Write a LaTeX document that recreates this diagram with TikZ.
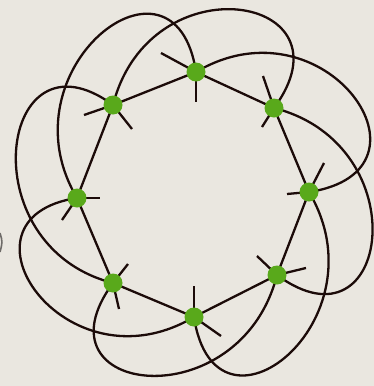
\documentclass[tikz,border=0pt]{standalone}
\usepackage{xcolor}
\usepackage{tikz}

\begin{document}
\begin{tikzpicture}[x=1pt, y=-1pt,
  filo/.style={draw=lineDark, line width=2.3pt},
  punto/.style={circle, fill=dotGreen, inner sep=0pt, minimum size=19pt}]

% Colori
\definecolor{bgBeige}{HTML}{EAE7E0}
\definecolor{lineDark}{HTML}{1C0B09}
\definecolor{dotGreen}{HTML}{59A91B}
\definecolor{lineGray}{HTML}{6E6B68}

% Sfondo
\useasboundingbox (0,0) rectangle (374,386);
\fill[bgBeige] (0,0) rectangle (374,386);

% Vertici dell'ottagono
\coordinate (A) at (196,72);
\coordinate (B) at (274,108);
\coordinate (C) at (309,192);
\coordinate (D) at (277,275);
\coordinate (E) at (194,317);
\coordinate (F) at (113,283);
\coordinate (G) at (77,198);
\coordinate (H) at (113,105);

% Estremi liberi dei tratti corti
\coordinate (a1) at (161,53);  \coordinate (a2) at (196,102);
\coordinate (b1) at (263,76);  \coordinate (b2) at (262,127);
\coordinate (c1) at (324,163); \coordinate (c2) at (287,194);
\coordinate (d1) at (257,256); \coordinate (d2) at (306,268);
\coordinate (e1) at (194,286); \coordinate (e2) at (221,336);
\coordinate (f1) at (128,264); \coordinate (f2) at (119,309);
\coordinate (g1) at (100,198); \coordinate (g2) at (62,220);
\coordinate (h1) at (84,115);  \coordinate (h2) at (132,129);

% Lati
\draw[filo] (A) -- (B) -- (C) -- (D) -- (E) -- (F) -- (G) -- (H) -- cycle;

% Anse esterne (ogni vertice col secondo successivo)
\draw[filo] (A) .. controls +(129,-76.5) and +(138.6,-21) .. (C);
\draw[filo] (B) .. controls +(145.3,37.1) and +(112.9,83.2) .. (D);
\draw[filo] (C) .. controls +(76.5,129) and +(21,138.6) .. (E);
\draw[filo] (D) .. controls +(-37.1,145.3) and +(-83.2,112.9) .. (F);
\draw[filo] (E) .. controls +(-129,76.5) and +(-132,20) .. (G);
\draw[filo] (F) .. controls +(-145.3,-37.1) and +(-112.9,-83.2) .. (H);
\draw[filo] (G) .. controls +(-76.5,-129) and +(-21,-138.6) .. (A);
\draw[filo] (H) .. controls +(37.1,-145.3) and +(83.2,-112.9) .. (B);

% Tratti corti
\draw[filo] (A) -- (a1);  \draw[filo] (A) -- (a2);
\draw[filo] (B) -- (b1);  \draw[filo] (B) -- (b2);
\draw[filo] (C) -- (c1);  \draw[filo] (C) -- (c2);
\draw[filo] (D) -- (d1);  \draw[filo] (D) -- (d2);
\draw[filo] (E) -- (e1);  \draw[filo] (E) -- (e2);
\draw[filo] (F) -- (f1);  \draw[filo] (F) -- (f2);
\draw[filo] (G) -- (g1);  \draw[filo] (G) -- (g2);
\draw[filo] (H) -- (h1);  \draw[filo] (H) -- (h2);

% Punti verdi
\node[punto] (nA) at (A) {};
\node[punto] (nB) at (B) {};
\node[punto] (nC) at (C) {};
\node[punto] (nD) at (D) {};
\node[punto] (nE) at (E) {};
\node[punto] (nF) at (F) {};
\node[punto] (nG) at (G) {};
\node[punto] (nH) at (H) {};

% Bordo grigio a sinistra
\draw[lineGray, line width=1.6pt] (0,233) .. controls (2.6,242) .. (0,252);

\end{tikzpicture}
\end{document}
